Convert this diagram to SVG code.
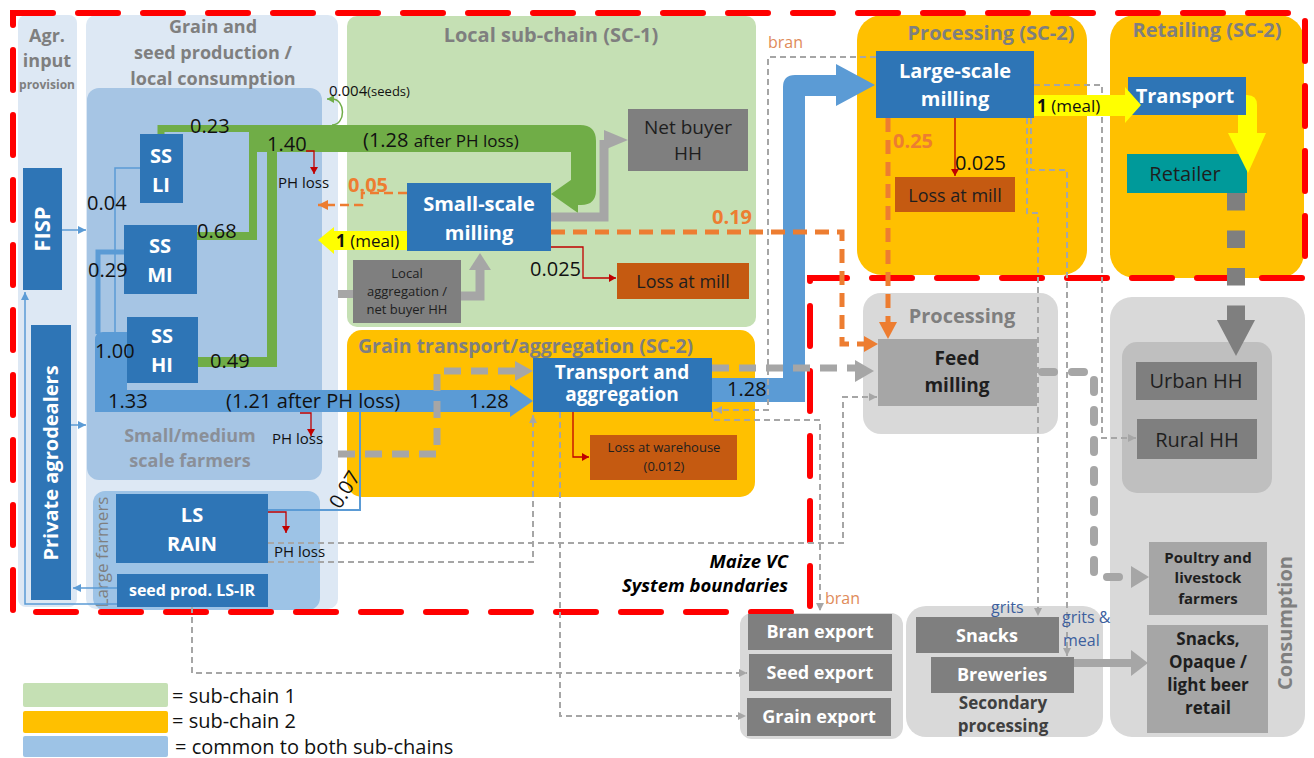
<svg xmlns="http://www.w3.org/2000/svg" width="1314" height="758" viewBox="0 0 1314 758">
<style>
text{font-family:"Open Sans","Noto Sans","Liberation Sans",sans-serif}
.hdr{font-weight:700;fill:#7f7f7f;font-size:20px;text-anchor:middle}
.hdr18{font-weight:700;fill:#7f7f7f;font-size:18px;text-anchor:middle}
.bn{fill:#2e75b6}
.wt{fill:#fff;font-weight:700;font-size:20px;text-anchor:middle}
.num{font-size:20px;fill:#111}
.ph{font-size:15px;fill:#111}
.loss{fill:#c55a11}
.gy{fill:#7f7f7f}
.lg{fill:#a6a6a6}
.dk{fill:#1e1e1e;text-anchor:middle}
.or{font-weight:700;font-size:20px;fill:#ed7d31}
.thinb{fill:none;stroke:#5b9bd5;stroke-width:1.5}
.red{fill:none;stroke:#c00000;stroke-width:1.3}
.gd{fill:none;stroke:#a6a6a6;stroke-width:2;stroke-dasharray:6 4}
.gthick{fill:none;stroke:#a6a6a6;stroke-width:7;stroke-dasharray:17 10}
.od{fill:none;stroke:#ed7d31;stroke-width:5;stroke-dasharray:14 8}
.gr{fill:none;stroke:#70ad47}
.pnl{fill:#d9d9d9}
.leg{font-size:20px;fill:#111}
.lbl{font-size:16px}
</style>
<defs>
<marker id="mb" markerUnits="userSpaceOnUse" markerWidth="10" markerHeight="10" refX="8" refY="4" orient="auto"><path d="M0,0 L8,4 L0,8 z" fill="#5b9bd5"/></marker>
<marker id="mr" markerUnits="userSpaceOnUse" markerWidth="10" markerHeight="10" refX="7" refY="4" orient="auto"><path d="M0,0 L7,4 L0,8 z" fill="#c00000"/></marker>
<marker id="mg" markerUnits="userSpaceOnUse" markerWidth="10" markerHeight="10" refX="8" refY="4" orient="auto"><path d="M0,0 L8,4 L0,8 z" fill="#a6a6a6"/></marker>
<marker id="mo" markerUnits="userSpaceOnUse" markerWidth="12" markerHeight="12" refX="10" refY="5" orient="auto"><path d="M0,0 L10,5 L0,10 z" fill="#ed7d31"/></marker>
<marker id="mgr" markerUnits="userSpaceOnUse" markerWidth="10" markerHeight="10" refX="7" refY="4" orient="auto"><path d="M0,0 L7,4 L0,8 z" fill="#70ad47"/></marker>
</defs>
<rect width="1314" height="758" fill="#fff"/>

<g id="panels">
<rect x="18" y="15" width="59" height="592" rx="8" fill="#dde8f4"/>
<rect x="86" y="15" width="252" height="594" rx="10" fill="#dde8f4"/>
<rect x="87" y="88" width="235" height="392" rx="12" fill="#a6c5e4"/>
<rect x="93" y="491" width="227" height="119" rx="12" fill="#9dc3e6"/>
<rect x="347" y="16" width="409" height="311" rx="10" fill="#c5e0b4"/>
<rect x="347" y="330" width="408" height="167" rx="15" fill="#ffc000"/>
<rect x="857" y="15" width="230" height="260" rx="25" fill="#ffc000"/>
<rect x="1110" y="15" width="194" height="263" rx="25" fill="#ffc000"/>
<rect x="863" y="293" width="195" height="141" rx="18" class="pnl"/>
<rect x="1110" y="297" width="195" height="440" rx="22" class="pnl"/>
<rect x="1122" y="342" width="150" height="151" rx="15" fill="#bfbfbf"/>
<rect x="740" y="613" width="163" height="126" rx="12" class="pnl"/>
<rect x="906" y="606" width="197" height="131" rx="20" class="pnl"/>
<text x="47" y="42" class="hdr18">Agr.</text>
<text x="47" y="67" class="hdr18">input</text>
<text x="47" y="89" class="hdr18" style="font-size:12px">provision</text>
<text x="213" y="33" class="hdr18">Grain and</text>
<text x="213" y="59" class="hdr18">seed production /</text>
<text x="213" y="85" class="hdr18">local consumption</text>
<text x="190" y="442" class="hdr18" style="fill:#8a8f98">Small/medium</text>
<text x="190" y="467" class="hdr18" style="fill:#8a8f98">scale farmers</text>
<text transform="translate(108,552) rotate(-90)" style="font-size:17px;fill:#7f7f7f;text-anchor:middle">Large farmers</text>
<text x="551" y="42" class="hdr">Local sub-chain (SC-1)</text>
<text x="358" y="353" class="hdr" style="text-anchor:start;font-size:19.5px">Grain transport/aggregation (SC-2)</text>
<text x="991" y="40" class="hdr">Processing (SC-2)</text>
<text x="1207" y="37" class="hdr">Retailing (SC-2)</text>
<text x="962" y="323" class="hdr">Processing</text>
<text transform="translate(1292,623) rotate(-90)" class="hdr">Consumption</text>
<text x="1003" y="709" style="font-size:17px;font-weight:700;fill:#404040;text-anchor:middle">Secondary</text>
<text x="1003" y="732" style="font-size:17px;font-weight:700;fill:#404040;text-anchor:middle">processing</text>
</g>

<g id="boundary">
<path d="M13,13 H1305 V278 H810 V612 H13 Z" fill="none" stroke="#f00" stroke-width="6" stroke-linecap="round" stroke-dasharray="40 25"/>
<text x="788" y="568" style="font-size:18.5px;font-weight:700;font-style:italic;text-anchor:end;fill:#000">Maize VC</text>
<text x="788" y="592" style="font-size:18.5px;font-weight:700;font-style:italic;text-anchor:end;fill:#000">System boundaries</text>
</g>

<g id="legend">
<rect x="23" y="683" width="145" height="24" rx="2" fill="#c5e0b4"/>
<rect x="23" y="711" width="145" height="22" rx="2" fill="#ffc000"/>
<rect x="23" y="736" width="145" height="21" rx="2" fill="#9dc3e6"/>
<text x="172" y="703" class="leg">= sub-chain 1</text>
<text x="172" y="728" class="leg">= sub-chain 2</text>
<text x="175" y="754" class="leg">= common to both sub-chains</text>
</g>

<g id="n-fisp"><rect x="23" y="168" width="39" height="122" class="bn"/><text transform="translate(50,229) rotate(-90)" class="wt" style="font-size:22px">FISP</text></g>
<g id="n-agro"><rect x="31" y="325" width="40" height="275" class="bn"/><text transform="translate(58,463) rotate(-90)" class="wt">Private agrodealers</text></g>
<g id="n-ssli"><rect x="140" y="134" width="43" height="69" class="bn"/><text x="161" y="163" class="wt">SS</text><text x="161" y="192" class="wt">LI</text></g>
<g id="n-ssmi"><rect x="124" y="225" width="73" height="69" class="bn"/><text x="160" y="253" class="wt">SS</text><text x="160" y="282" class="wt">MI</text></g>
<g id="n-sshi"><rect x="127" y="317" width="71" height="66" class="bn"/><text x="162" y="343" class="wt">SS</text><text x="162" y="372" class="wt">HI</text></g>
<g id="n-lsrain"><rect x="116" y="494" width="152" height="69" class="bn"/><text x="192" y="522" class="wt">LS</text><text x="192" y="551" class="wt">RAIN</text></g>
<g id="n-lsir"><rect x="117" y="574" width="151" height="33" class="bn"/><text x="192" y="596" class="wt" style="font-size:16px">seed prod. LS-IR</text></g>
<g id="n-ssmill"><rect x="407" y="183" width="144" height="68" class="bn"/><text x="479" y="211" class="wt">Small-scale</text><text x="479" y="240" class="wt">milling</text></g>
<g id="n-netbuyer"><rect x="628" y="109" width="120" height="62" class="gy"/><text x="688" y="134" class="dk" style="font-size:19px">Net buyer</text><text x="688" y="160" class="dk" style="font-size:19px">HH</text></g>
<g id="n-localagg"><rect x="353" y="260" width="108" height="63" class="gy"/><text x="407" y="278" class="dk" style="font-size:13px">Local</text><text x="407" y="296" class="dk" style="font-size:13px">aggregation /</text><text x="407" y="314" class="dk" style="font-size:13px">net buyer HH</text></g>
<g id="n-loss1"><rect x="617" y="263" width="132" height="36" class="loss"/><text x="683" y="288" class="dk" style="font-size:18px">Loss at mill</text></g>
<g id="n-transagg"><rect x="533" y="358" width="179" height="54" class="bn"/><text x="622" y="379" class="wt" style="font-size:19px">Transport and</text><text x="622" y="401" class="wt" style="font-size:19px">aggregation</text></g>
<g id="n-losswh"><rect x="590" y="435" width="147" height="45" class="loss"/><text x="664" y="452" class="dk" style="font-size:13px">Loss at warehouse</text><text x="664" y="471" class="dk" style="font-size:13px">(0.012)</text></g>
<g id="n-lsmill"><rect x="876" y="51" width="158" height="67" class="bn"/><text x="955" y="78" class="wt">Large-scale</text><text x="955" y="106" class="wt">milling</text></g>
<g id="n-loss2"><rect x="895" y="177" width="120" height="35" class="loss"/><text x="955" y="202" class="dk" style="font-size:18px">Loss at mill</text></g>
<g id="n-transport"><rect x="1128" y="77" width="118" height="38" class="bn"/><text x="1185" y="103" class="wt">Transport</text></g>
<g id="n-retailer"><rect x="1127" y="154" width="120" height="39" fill="#009a9a"/><text x="1185" y="181" class="dk" style="font-size:20px">Retailer</text></g>
<g id="n-feed"><rect x="878" y="339" width="159" height="67" class="lg"/><text x="957" y="365" class="dk" style="font-size:19px;font-weight:700">Feed</text><text x="957" y="392" class="dk" style="font-size:19px;font-weight:700">milling</text></g>
<g id="n-urban"><rect x="1136" y="362" width="121" height="38" fill="#7f7f7f"/><text x="1196" y="388" class="dk" style="font-size:20px">Urban HH</text></g>
<g id="n-rural"><rect x="1137" y="419" width="120" height="40" fill="#7f7f7f"/><text x="1197" y="447" class="dk" style="font-size:20px">Rural HH</text></g>
<g id="n-poultry"><rect x="1149" y="542" width="118" height="73" class="lg"/><text x="1208" y="563" class="dk" style="font-size:15px;font-weight:700">Poultry and</text><text x="1208" y="583" class="dk" style="font-size:15px;font-weight:700">livestock</text><text x="1208" y="604" class="dk" style="font-size:15px;font-weight:700">farmers</text></g>
<g id="n-snacksretail"><rect x="1147" y="625" width="121" height="108" class="lg"/><text x="1208" y="645" class="dk" style="font-size:17px;font-weight:700">Snacks,</text><text x="1208" y="668" class="dk" style="font-size:17px;font-weight:700">Opaque /</text><text x="1208" y="691" class="dk" style="font-size:17px;font-weight:700">light beer</text><text x="1208" y="714" class="dk" style="font-size:17px;font-weight:700">retail</text></g>
<g id="n-branexp"><rect x="748" y="614" width="144" height="36" class="gy"/><text x="820" y="638" class="wt" style="font-size:18px">Bran export</text></g>
<g id="n-seedexp"><rect x="749" y="654" width="143" height="37" class="gy"/><text x="820" y="679" class="wt" style="font-size:18px">Seed export</text></g>
<g id="n-grainexp"><rect x="747" y="698" width="144" height="38" class="gy"/><text x="819" y="723" class="wt" style="font-size:18px">Grain export</text></g>
<g id="n-snacks"><rect x="916" y="617" width="143" height="36" class="gy"/><text x="987" y="642" class="wt" style="font-size:18px">Snacks</text></g>
<g id="n-breweries"><rect x="931" y="657" width="143" height="36" class="gy"/><text x="1002" y="681" class="wt" style="font-size:18px">Breweries</text></g>

<g id="connectors">
<path d="M62,230 H86" class="thinb" marker-end="url(#mb)"/>
<path d="M71,425 H86" class="thinb" marker-end="url(#mb)"/>
<path d="M117,588 H73" class="thinb" marker-end="url(#mb)"/>
<path d="M117,604 H25 V292" class="thinb" marker-end="url(#mb)"/>
<path d="M140,168 H115 V334" class="thinb"/>
<path d="M124,252 H98 V334" fill="none" stroke="#5b9bd5" stroke-width="5"/>
<path d="M268,510 H360 V412" fill="none" stroke="#5b9bd5" stroke-width="2"/>
<path d="M95,412 V340 Q95,332 103,332 H127 V390 H510 V385 L533,401 L510,417 V412 Z" fill="#5b9bd5"/>
<path d="M712,378 H783 V87 Q783,75 795,75 H836 V64 L875,85 L836,106 V96 H805 V402 H712 Z" fill="#5b9bd5"/>
<path d="M161,134 V128.5 H256" class="gr" stroke-width="7"/>
<path d="M197,236 H253 V130" class="gr" stroke-width="8"/>
<path d="M198,362 H272 V145" class="gr" stroke-width="10"/>
<path d="M250,125 H580 Q596,125 596,141 V190 Q596,205 581,205 H578 V213 L551,194 L578,175 V183 H571 V152 H250 Z" fill="#70ad47"/>
<path d="M332,125 C346,125 346,99 332,99 H327" class="gr" stroke-width="1.5" marker-end="url(#mgr)"/>
<path d="M551,217 H604 V140" fill="none" stroke="#a6a6a6" stroke-width="9"/>
<polygon points="604,130 628,140 604,150" fill="#a6a6a6"/>
<path d="M338,294 H353" fill="none" stroke="#a6a6a6" stroke-width="8"/>
<path d="M461,296 H480 V268" fill="none" stroke="#a6a6a6" stroke-width="9"/>
<polygon points="469,270 480,253 491,270" fill="#a6a6a6"/>
<path d="M338,454 H437 V371 H516" class="gthick"/>
<polygon points="515,361 533,371 515,381" fill="#a6a6a6"/>
<path d="M712,368 H856" class="gthick"/>
<polygon points="855,360 874,371 855,382" fill="#a6a6a6"/>
<path d="M1042,372 H1094 V577 H1128" fill="none" stroke="#a6a6a6" stroke-width="8" stroke-linecap="round" stroke-dasharray="12 18"/>
<polygon points="1131,566 1149,577 1131,588" fill="#a6a6a6"/>
<path d="M1236,193 V322" fill="none" stroke="#7f7f7f" stroke-width="18" stroke-dasharray="17.5 20"/>
<polygon points="1217,320 1255,320 1236,356" fill="#7f7f7f"/>
<path d="M1074,663 H1133" fill="none" stroke="#a6a6a6" stroke-width="8"/>
<polygon points="1131,650 1148,663 1131,676" fill="#a6a6a6"/>
<path d="M407,193 H362 V205 H318" fill="none" stroke="#ed7d31" stroke-width="2.5" stroke-dasharray="9 5" marker-end="url(#mo)"/>
<path d="M551,232 H842 V344 H866" class="od"/>
<polygon points="864,336 878,344 864,352" fill="#ed7d31"/>
<path d="M888,118 V322" class="od"/>
<polygon points="879,322 888,339 897,322" fill="#ed7d31"/>
<path d="M306,151 H314 V174" class="red" marker-end="url(#mr)"/>
<path d="M300,413 H311 V436" class="red" marker-end="url(#mr)"/>
<path d="M268,512 H286 V533" class="red" marker-end="url(#mr)"/>
<path d="M551,247 H583 V278 H616" class="red" marker-end="url(#mr)"/>
<path d="M573,412 V457 H589" class="red" marker-end="url(#mr)"/>
<path d="M955,118 V176" class="red" marker-end="url(#mr)"/>
<path d="M876,57 H768 V410 H714" class="gd" marker-end="url(#mg)"/>
<path d="M712,412 V420 H820 V611" class="gd" marker-end="url(#mg)"/>
<path d="M268,543 H843 V397 H877" class="gd" marker-end="url(#mg)"/>
<path d="M268,562 H533 V415" class="gd" marker-end="url(#mg)"/>
<path d="M192,607 V673 H747" class="gd" marker-end="url(#mg)"/>
<path d="M560,412 V716 H746" class="gd" marker-end="url(#mg)"/>
<path d="M1034,85 H1102 V438 H1136" class="gd" marker-end="url(#mg)"/>
<path d="M1027,118 V213 H1038 V616" class="gd" marker-end="url(#mg)"/>
<path d="M1031,118 V170 H1067 V656" class="gd" marker-end="url(#mg)"/>
<polygon points="318,240 334,227 334,231 407,231 407,250 334,250 334,254" fill="#ffff00"/>
<polygon points="1034,95 1125,95 1125,87 1141,105 1125,123 1125,116 1034,116" fill="#ffff00"/>
<path d="M1246,95 H1247 Q1257,95 1257,105 V133 H1266 L1248,173 L1228,133 H1238 V115 H1246 Z" fill="#ffff00"/>
</g>

<g id="labels">
<text x="190" y="133" class="num">0.23</text>
<text x="267" y="151" class="num">1.40</text>
<text x="87" y="210" class="num">0.04</text>
<text x="197" y="238" class="num">0.68</text>
<text x="88" y="277" class="num">0.29</text>
<text x="95" y="358" class="num">1.00</text>
<text x="210" y="368" class="num">0.49</text>
<text x="108" y="408" class="num">1.33</text>
<text x="226" y="408" class="num">(1.21 after PH loss)</text>
<text x="469" y="408" class="num">1.28</text>
<text x="727" y="396" class="num">1.28</text>
<text x="363" y="147" class="num">(1.28 <tspan style="font-size:17px">after PH loss)</tspan></text>
<text x="329" y="96" style="font-size:15px;fill:#111">0.004<tspan style="font-size:13px">(seeds)</tspan></text>
<text x="278" y="188" class="ph">PH loss</text>
<text x="272" y="444" class="ph">PH loss</text>
<text x="274" y="557" class="ph">PH loss</text>
<text x="348" y="192" class="or">0.05</text>
<text x="712" y="224" class="or">0.19</text>
<text x="893" y="148" class="or">0.25</text>
<text x="530" y="276" class="num">0.025</text>
<text x="955" y="170" class="num">0.025</text>
<text x="336" y="247" style="font-size:17px;fill:#111"><tspan font-weight="700">1</tspan> (meal)</text>
<text x="1037" y="112" style="font-size:17px;fill:#111"><tspan font-weight="700">1</tspan> (meal)</text>
<text transform="translate(340,510) rotate(-58)" class="num">0.07</text>
<text x="768" y="48" class="lbl" style="fill:#e08b5a">bran</text>
<text x="825" y="604" class="lbl" style="fill:#e08b5a">bran</text>
<text x="991" y="613" class="lbl" style="fill:#3d5f9e">grits</text>
<text x="1062" y="623" class="lbl" style="fill:#3d5f9e">grits &amp;</text>
<text x="1063" y="646" class="lbl" style="fill:#3d5f9e">meal</text>
</g>
</svg>
